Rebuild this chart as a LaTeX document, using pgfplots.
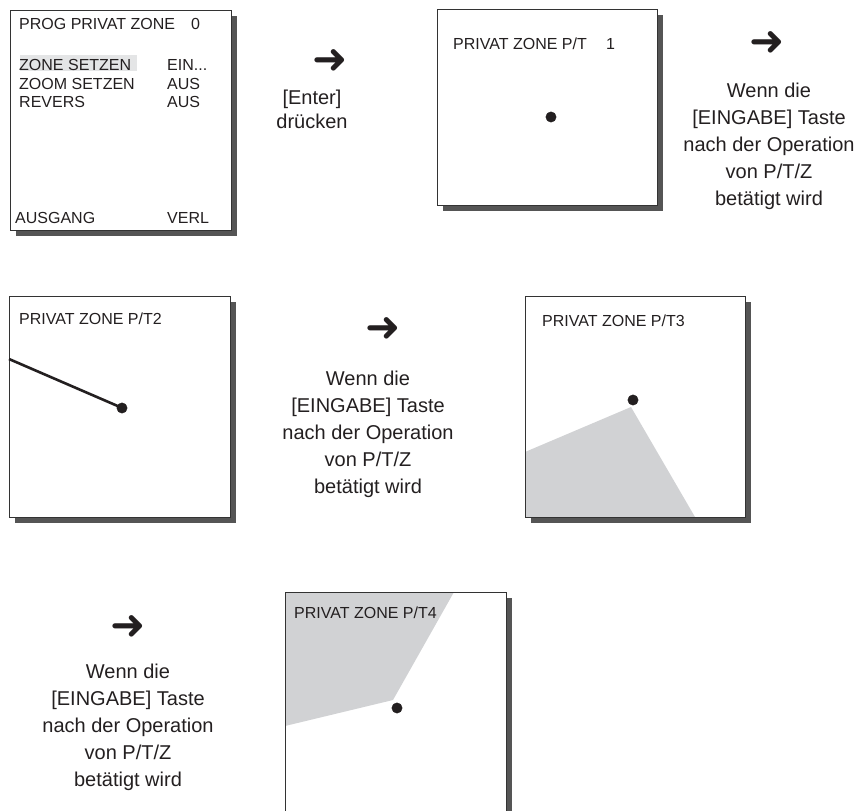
\documentclass[border=0pt]{standalone}
\usepackage{fontspec}
\setmainfont{Liberation Sans}
\newfontfamily\sym{DejaVu Sans}
\usepackage{pgfplots}
\pgfplotsset{compat=1.18}
\definecolor{shadow}{HTML}{555555}
\definecolor{zone}{HTML}{D1D2D4}
\definecolor{hil}{HTML}{E4E5E6}
\definecolor{frame}{HTML}{333333}
\definecolor{ink}{HTML}{231F20}
\begin{document}
\begin{tikzpicture}
\begin{axis}[
  scale only axis, width=868pt, height=811pt,
  xmin=0, xmax=868, ymin=0, ymax=811, y dir=reverse,
  hide axis, clip=true,
]
% invisible frame for bounding box
\addplot[draw=none] coordinates {(0,0) (868,811)};
% ---------- box 1 ----------
\addplot[fill=shadow, draw=none] coordinates {(16,16) (237,16) (237,236) (16,236)} -- cycle;
\addplot[fill=white, draw=frame, line width=1pt] coordinates {(10,10) (231,10) (231,230) (10,230)} -- cycle;
\addplot[fill=hil, draw=none] coordinates {(20,55) (137,55) (137,71) (20,71)} -- cycle;
% ---------- box 2 ----------
\addplot[fill=shadow, draw=none] coordinates {(443,15) (663,15) (663,211) (443,211)} -- cycle;
\addplot[fill=white, draw=frame, line width=1pt] coordinates {(437,9) (657,9) (657,205) (437,205)} -- cycle;
\addplot[only marks, mark=*, mark size=5.2pt, color=ink] coordinates {(551,117)};
% ---------- box 3 ----------
\addplot[fill=shadow, draw=none] coordinates {(15,302) (236,302) (236,523) (15,523)} -- cycle;
\addplot[fill=white, draw=frame, line width=1pt] coordinates {(9,296) (230,296) (230,517) (9,517)} -- cycle;
\addplot[ink, line width=2.6pt] coordinates {(9,359) (120,407)};
\addplot[only marks, mark=*, mark size=5.2pt, color=ink] coordinates {(122,408)};
% ---------- box 4 ----------
\addplot[fill=shadow, draw=none] coordinates {(531,302) (751,302) (751,523) (531,523)} -- cycle;
\addplot[fill=white, draw=frame, line width=1pt] coordinates {(525,296) (745,296) (745,517) (525,517)} -- cycle;
\addplot[fill=zone, draw=none] coordinates {(525,452) (631,407) (695,517) (525,517)} -- cycle;
\addplot[draw=frame, line width=1pt] coordinates {(525,296) (745,296) (745,517) (525,517)} -- cycle;
\addplot[only marks, mark=*, mark size=5.2pt, color=ink] coordinates {(633,400)};
% ---------- box 5 ----------
\addplot[fill=shadow, draw=none] coordinates {(291,598) (512,598) (512,830) (291,830)} -- cycle;
\addplot[fill=white, draw=frame, line width=1pt] coordinates {(285,592) (506,592) (506,824) (285,824)} -- cycle;
\addplot[fill=zone, draw=none] coordinates {(285,592) (454,592) (393,700) (285,726)} -- cycle;
\addplot[draw=frame, line width=1pt] coordinates {(285,824) (285,592) (506,592) (506,824)};
\addplot[only marks, mark=*, mark size=5.2pt, color=ink] coordinates {(397,708)};
% ---------- texts in boxes ----------
\begin{scope}[every node/.style={font=\fontsize{16}{18}\selectfont, text=ink, inner sep=0pt}]
\node[anchor=base west] at (axis cs:19,30) {PROG PRIVAT ZONE};
\node[anchor=base west] at (axis cs:191,30) {0};
\node[anchor=base west] at (axis cs:19,70) {ZONE SETZEN};
\node[anchor=base west] at (axis cs:167,70) {EIN...};
\node[anchor=base west] at (axis cs:19,89) {ZOOM SETZEN};
\node[anchor=base west] at (axis cs:167,89) {AUS};
\node[anchor=base west] at (axis cs:19,107) {REVERS};
\node[anchor=base west] at (axis cs:167,107) {AUS};
\node[anchor=base west] at (axis cs:15,223) {AUSGANG};
\node[anchor=base west] at (axis cs:167,223) {VERL};
\node[anchor=base west] at (axis cs:453,49) {PRIVAT ZONE P/T};
\node[anchor=base west] at (axis cs:606,49) {1};
\node[anchor=base west] at (axis cs:19,324) {PRIVAT ZONE P/T2};
\node[anchor=base west] at (axis cs:542,326) {PRIVAT ZONE P/T3};
\node[anchor=base west] at (axis cs:294,618) {PRIVAT ZONE P/T4};
\end{scope}
% ---------- captions ----------
\begin{scope}[every node/.style={font=\fontsize{20}{24}\selectfont, text=ink, inner sep=0pt, anchor=base}]
\node[font=\sym\bfseries\fontsize{42}{42}\selectfont] at (axis cs:330,73) {➜};
\node at (axis cs:312,104) {[Enter]};
\node at (axis cs:312,128) {drücken};
\node[font=\sym\bfseries\fontsize{42}{42}\selectfont] at (axis cs:767,55) {➜};
\node at (axis cs:769,97) {Wenn die};
\node at (axis cs:769,124) {[EINGABE] Taste};
\node at (axis cs:769,151) {nach der Operation};
\node at (axis cs:769,178) {von P/T/Z};
\node at (axis cs:769,205) {betätigt wird};
\node[font=\sym\bfseries\fontsize{42}{42}\selectfont] at (axis cs:383,341) {➜};
\node at (axis cs:368,385) {Wenn die};
\node at (axis cs:368,412) {[EINGABE] Taste};
\node at (axis cs:368,439) {nach der Operation};
\node at (axis cs:368,466) {von P/T/Z};
\node at (axis cs:368,493) {betätigt wird};
\node[font=\sym\bfseries\fontsize{42}{42}\selectfont] at (axis cs:128,639) {➜};
\node at (axis cs:128,678) {Wenn die};
\node at (axis cs:128,705) {[EINGABE] Taste};
\node at (axis cs:128,732) {nach der Operation};
\node at (axis cs:128,759) {von P/T/Z};
\node at (axis cs:128,786) {betätigt wird};
\end{scope}
\end{axis}
\end{tikzpicture}
\end{document}
